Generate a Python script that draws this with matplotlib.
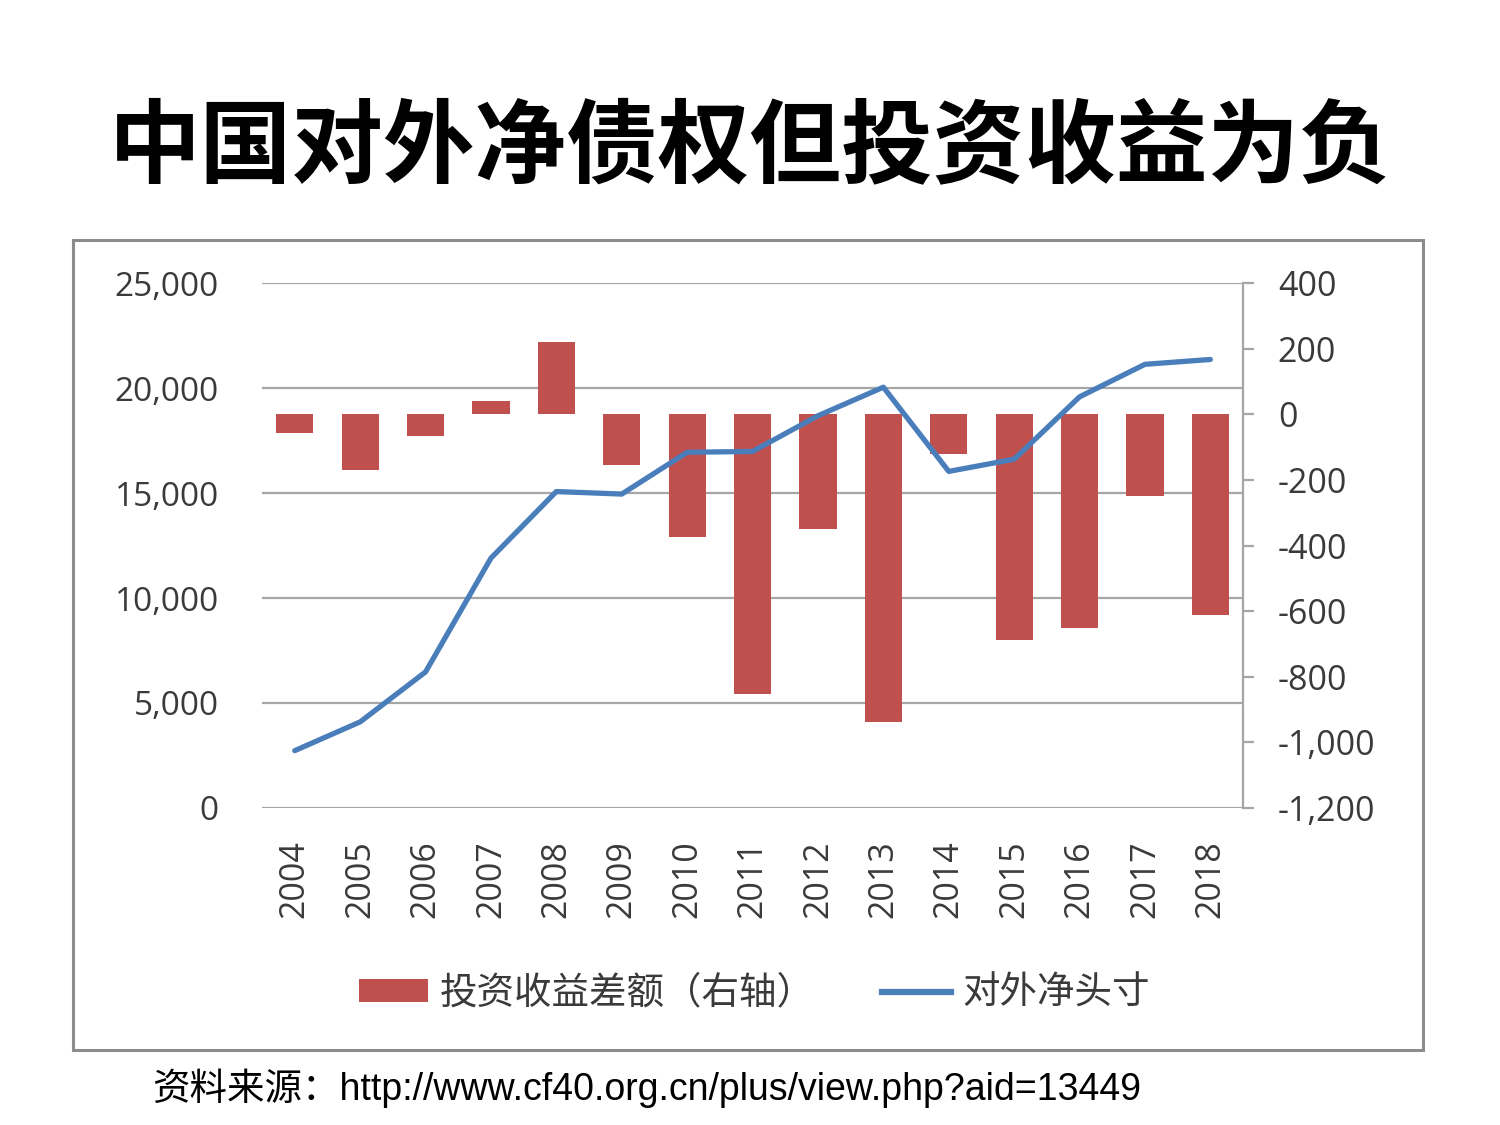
import matplotlib
matplotlib.use("Agg")
import matplotlib.pyplot as plt
from matplotlib.patches import Rectangle, Patch
from matplotlib.lines import Line2D
from matplotlib.ticker import FuncFormatter
import numpy as np

plt.rcParams['font.family'] = ['Open Sans', 'Noto Sans CJK SC', 'DejaVu Sans']

# ---- data ----
years = ['2004', '2005', '2006', '2007', '2008', '2009', '2010', '2011',
         '2012', '2013', '2014', '2015', '2016', '2017', '2018']
income_diff = [-57, -171, -65, 40, 219, -155, -375, -854, -349, -939,
               -121, -688, -651, -249, -611]          # right axis (bars)
net_position = [2730, 4100, 6480, 11900, 15070, 14950, 16940, 16980,
                18680, 20040, 16030, 16610, 19580, 21130, 21360]  # left axis (line)
left_ticks = [0, 5000, 10000, 15000, 20000, 25000]
right_ticks = [-1200, -1000, -800, -600, -400, -200, 0, 200, 400]
title = '中国对外净债权但投资收益为负'
bar_label = '投资收益差额（右轴）'
line_label = '对外净头寸'
source = '资料来源：http://www.cf40.org.cn/plus/view.php?aid=13449'

bar_color = '#C0504D'
line_color = '#4A7EBB'
grid_color = '#A6A6A6'
text_color = '#3A3A3A'

fig = plt.figure(figsize=(15, 11.25), dpi=100)
fig.patch.set_facecolor('white')

# chart frame
fig.patches.append(Rectangle((0.0487, 0.0667), 0.9, 0.72, transform=fig.transFigure,
                             fill=False, edgecolor='#8C8C8C', linewidth=2.2, zorder=0))

ax1 = fig.add_axes([0.1747, 0.2818, 0.6540, 0.4666])
ax2 = ax1.twinx()

x = np.arange(len(years))

ax1.set_xlim(-0.5, len(years) - 0.5)
ax1.set_ylim(left_ticks[0], left_ticks[-1])
ax2.set_ylim(right_ticks[0], right_ticks[-1])

# gridlines (left axis)
ax1.set_yticks(left_ticks)
ax1.yaxis.grid(True, color=grid_color, linewidth=1.6)
ax1.set_axisbelow(True)

# bars on right axis
ax2.bar(x, income_diff, width=0.57, color=bar_color, zorder=2)
# line on left-axis scale, drawn above bars
ax2.plot(x, net_position, color=line_color, linewidth=3.8, solid_joinstyle='round',
         solid_capstyle='round', transform=ax1.transData, zorder=3)
ax2.set_xlim(-0.5, len(years) - 0.5)

for sp in ['top', 'left', 'bottom']:
    ax1.spines[sp].set_visible(False)
    ax2.spines[sp].set_visible(False)
ax1.spines['right'].set_visible(False)
ax2.spines['right'].set_color(grid_color)
ax2.spines['right'].set_linewidth(1.6)

fmt = FuncFormatter(lambda v, p: f'{int(v):,}')
ax1.yaxis.set_major_formatter(fmt)
ax2.set_yticks(right_ticks)
ax2.yaxis.set_major_formatter(fmt)

ax1.set_xticks(x)
ax1.set_xticklabels(years, rotation=90, va='top')
ax1.tick_params(axis='x', length=0, pad=23, labelsize=24.5, labelcolor=text_color)
ax1.tick_params(axis='y', length=0, pad=31, labelsize=24, labelcolor=text_color)
ax2.tick_params(axis='y', length=8, width=1.6, color=grid_color, pad=17,
                labelsize=24.5, labelcolor=text_color)

# legend
handles = [Patch(facecolor=bar_color, edgecolor='none'),
           Line2D([0], [0], color=line_color, linewidth=4.5)]
fig.legend(handles, [bar_label, line_label], loc='center',
           bbox_to_anchor=(0.503, 0.117), ncol=2, frameon=False,
           prop={'family': ['Noto Sans CJK SC'], 'size': 27},
           handlelength=1.85, handleheight=0.55, handletextpad=0.3,
           columnspacing=1.8, labelcolor=text_color)

# title
fig.text(0.5, 0.868, title, ha='center', va='center', fontsize=66,
         fontweight='bold', family=['Noto Sans CJK SC'], color='black')

# source
fig.text(0.1013, 0.033, source, ha='left', va='center', fontsize=27,
         family=['Liberation Sans', 'Noto Sans CJK SC'], color='black')

fig.savefig('out.png', dpi=100, facecolor='white')
